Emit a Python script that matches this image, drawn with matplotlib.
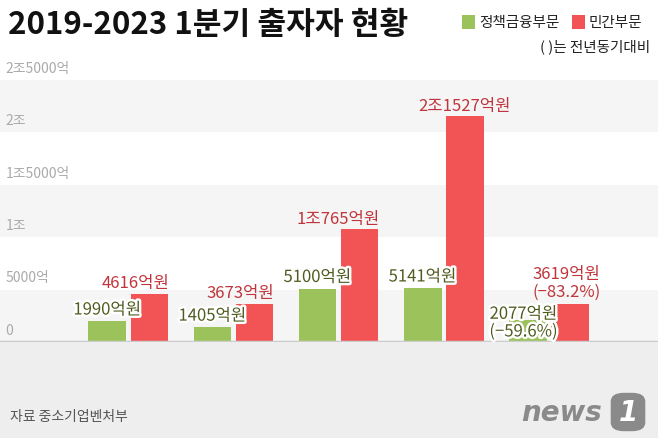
import matplotlib
matplotlib.use("Agg")
import matplotlib.pyplot as plt
import matplotlib.patheffects as pe
from matplotlib.patches import Rectangle, FancyBboxPatch
import numpy as np

plt.rcParams['font.family'] = ['Noto Sans CJK KR', 'DejaVu Sans']

# data (단위: 억원)
years = ["2019년\n1분기", "2020년\n1분기", "2021년\n1분기", "2022년\n1분기", "2023년\n1분기"]
policy = [1990, 1405, 5100, 5141, 2077]      # 정책금융부문
private = [4616, 3673, 10765, 21527, 3619]   # 민간부문
policy_chg = [None, None, None, None, "(−59.6%)"]
private_chg = [None, None, None, None, "(−83.2%)"]
ytick_vals = [0, 5000, 10000, 15000, 20000, 25000]
ytick_labels = ["0", "5000억", "1조", "1조5000억", "2조", "2조5000억"]

GREEN = "#9cc35b"
RED = "#f25456"
GREEN_TXT = "#4f5c1f"
RED_TXT = "#c0353b"


def won(v):
    jo, eok = divmod(v, 10000)
    return (f"{jo}조" if jo else "") + f"{eok}억원"


W, H = 658, 439
fig = plt.figure(figsize=(W / 100, H / 100), dpi=100)
fig.patch.set_facecolor("white")

# bottom gray area
fig.patches.append(Rectangle((0, 0), 1, 96 / H, transform=fig.transFigure,
                             facecolor="#eeeeee", edgecolor="none", zorder=0))

ax = fig.add_axes([0, 96 / H, 1, 283 / H])
ax.set_facecolor("none")
ax.set_ylim(0, 27000)
ax.set_xlim(-1.222, 5.04)
for s in ax.spines.values():
    s.set_visible(False)
ax.set_yticks([])
ax.tick_params(axis="x", length=0, pad=9, labelsize=11.5, colors="#222222")

# alternating bands
for lo in (0, 10000, 20000):
    ax.axhspan(lo, lo + 5000, color="#f5f5f5", zorder=0, lw=0)
ax.axhline(0, color="#cccccc", lw=2.5, zorder=3)

for v, lab in zip(ytick_vals, ytick_labels):
    ax.text(0.008, v + 500, lab, transform=ax.get_yaxis_transform(),
            fontsize=10, color="#aaaaaa", va="bottom", ha="left")

x = np.arange(len(years))
bw = 0.36
off = 0.2
ax.bar(x - off, policy, bw, color=GREEN, zorder=2)
ax.bar(x + off, private, bw, color=RED, zorder=2)

halo = [pe.withStroke(linewidth=3.5, foreground="white")]
for i in range(len(years)):
    if policy_chg[i] is None:
        ax.text(x[i] - off, policy[i] + 250, won(policy[i]), ha="center", va="bottom",
                fontsize=12, color=GREEN_TXT, zorder=4, path_effects=halo)
    else:
        ax.text(x[i] - off - 0.04, 150, won(policy[i]) + "\n" + policy_chg[i],
                ha="center", va="bottom", fontsize=12, color=GREEN_TXT, zorder=4,
                linespacing=1.05, path_effects=halo)
    if private_chg[i] is None:
        if i < 3:
            ax.text(x[i] + off + bw / 2 + 0.01, private[i] + 250, won(private[i]),
                    ha="right", va="bottom", fontsize=12, color=RED_TXT, zorder=4)
        else:
            ax.text(x[i] + off, private[i] + 250, won(private[i]), ha="center",
                    va="bottom", fontsize=12, color=RED_TXT, zorder=4)
    else:
        ax.text(x[i] + off - 0.03, private[i] + 450, won(private[i]) + "\n" + private_chg[i],
                ha="center", va="bottom", fontsize=12, color=RED_TXT, zorder=4,
                linespacing=1.05)

ax.set_xticks(x)
ax.set_xticklabels(years, linespacing=1.25)

# title and legend
fig.text(8 / W, 1 - 25 / H, "2019-2023 1분기 출자자 현황", fontsize=22.5,
         fontweight="bold", va="center", ha="left", color="#111111")
fig.patches.append(Rectangle((462 / W, 1 - 30 / H), 13 / W, 14 / H, transform=fig.transFigure,
                             facecolor=GREEN, edgecolor="none"))
fig.text(479 / W, 1 - 23 / H, "정책금융부문", fontsize=10.5, va="center", ha="left", color="#222222")
fig.patches.append(Rectangle((572 / W, 1 - 30 / H), 13 / W, 14 / H, transform=fig.transFigure,
                             facecolor=RED, edgecolor="none"))
fig.text(589 / W, 1 - 23 / H, "민간부문", fontsize=10.5, va="center", ha="left", color="#222222")
fig.text(650 / W, 1 - 47 / H, "( )는 전년동기대비", fontsize=10.5, va="center", ha="right", color="#222222")

# source + logo
fig.text(10 / W, 1 - 417 / H, "자료 중소기업벤처부", fontsize=10, va="center", ha="left", color="#555555")
fig.text(602 / W, 1 - 413 / H, "news", fontsize=20, fontweight="bold", style="italic",
         family="DejaVu Sans", va="center", ha="right", color="#8a8a8a")
fig.patches.append(FancyBboxPatch((614 / W, 1 - 430 / H), 28 / W, 34 / H,
                                  boxstyle="round,pad=0.005,rounding_size=0.02",
                                  transform=fig.transFigure, facecolor="#8a8a8a", edgecolor="none"))
fig.text(628 / W, 1 - 413 / H, "1", fontsize=20, fontweight="bold", style="italic",
         family="DejaVu Sans", va="center", ha="center", color="white")

fig.savefig("out.png", dpi=100)
